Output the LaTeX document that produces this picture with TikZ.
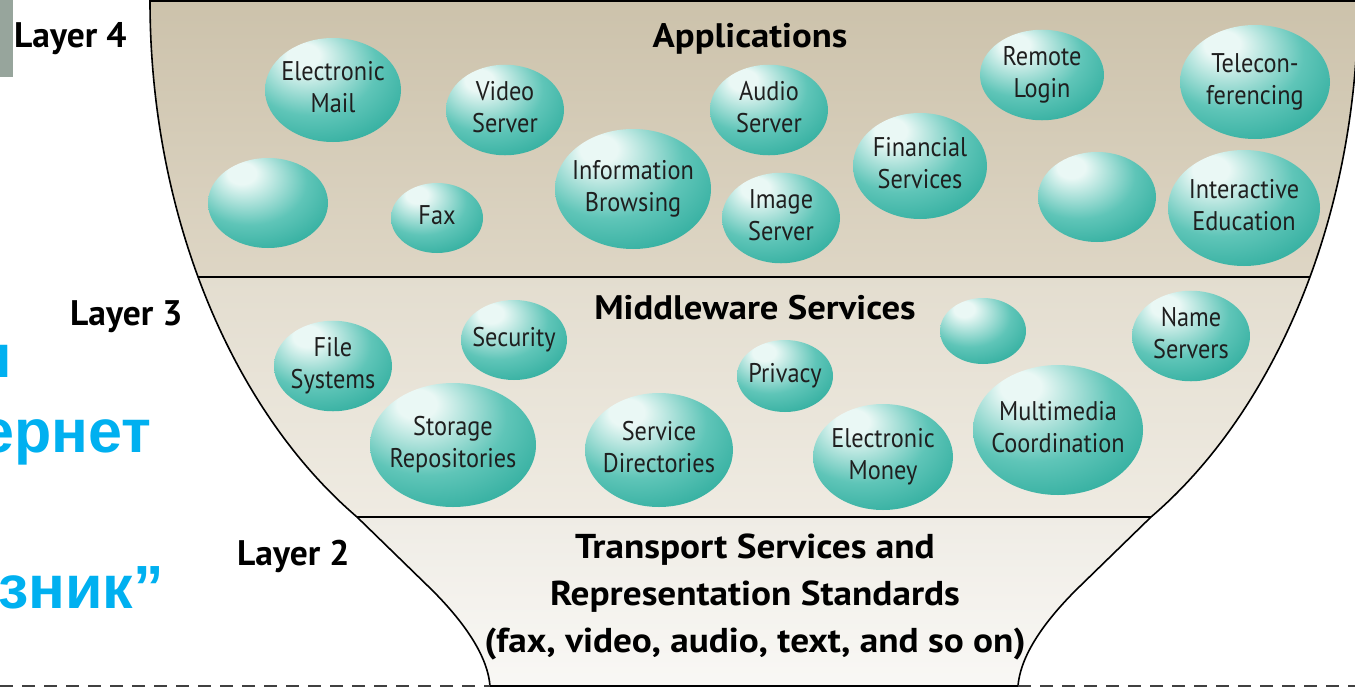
\documentclass[tikz,border=0pt]{standalone}
\usepackage{fontspec}
\setsansfont{PT Sans}
\newfontfamily\bubfont{PT Sans}[FakeStretch=0.9]
\newfontfamily\titlefont{PT Sans}[FakeStretch=1.08]
\newfontfamily\cyrfont{Liberation Sans}
\usetikzlibrary{shapes.geometric}
\definecolor{bubhi}{HTML}{EAF8F5}
\definecolor{bubmid}{HTML}{5FC5B8}
\definecolor{bubdark}{HTML}{1CA393}
\definecolor{bubedge}{HTML}{0C9181}
\definecolor{l4top}{HTML}{CCC2AB}
\definecolor{l4bot}{HTML}{DED6C5}
\definecolor{l3top}{HTML}{E3DDCF}
\definecolor{l3bot}{HTML}{EFEBE2}
\definecolor{l2top}{HTML}{EFECE5}
\definecolor{l2bot}{HTML}{F9F8F5}
\definecolor{sidegray}{HTML}{97A59C}
\definecolor{cyrblue}{HTML}{00B0F0}
\pgfdeclareradialshading{tealball}{\pgfpoint{-12bp}{18bp}}{color(0bp)=(bubhi); color(6bp)=(bubhi); color(24bp)=(bubmid); color(44bp)=(bubdark); color(70bp)=(bubedge)}
\newcommand{\bub}[1]{\makebox[0pt]{\begin{tabular}{@{}c@{}}#1\end{tabular}}}
\tikzset{bubble/.style={ellipse,shading=tealball,inner sep=0pt,text=black!88,
		font=\bubfont\fontsize{27}{32}\selectfont},
	 bsize/.style 2 args={minimum width=#1,minimum height=#2},
	 title/.style={font=\titlefont\bfseries\fontsize{34}{48}\selectfont,anchor=base},
	 lname/.style={font=\sffamily\bfseries\fontsize{35.5}{40}\selectfont,anchor=base west,inner sep=0pt},
	 cyr/.style={font=\cyrfont\bfseries\fontsize{61}{75}\selectfont,text=cyrblue,inner sep=0pt,anchor=base east},
	 dashline/.style={line width=1.5pt,black!75,dash pattern=on 13pt off 9pt}
	 }
\begin{document}
\begin{tikzpicture}[x=1pt,y=-1pt] % hourglass of service layers
	\useasboundingbox (0,0) rectangle (1355,688);
	\fill[sidegray] (0,0) rectangle (13,77);
	\path[save path=\funnelpath] (150,1) .. controls (150,215) and (232,410) .. (357,517) -- (432,590)
		.. controls (470,628) and (488,660) .. (490,686) -- (1018,686)
		.. controls (1020,660) and (1038,628) .. (1076,590) -- (1151,517)
		.. controls (1276,410) and (1358,215) .. (1358,1) -- cycle;
	\begin{scope}
		\clip[use path=\funnelpath];
		\shade[top color=l4top,bottom color=l4bot] (0,0) rectangle (1360,277);
		\shade[top color=l3top,bottom color=l3bot] (0,277) rectangle (1360,517);
		\shade[top color=l2top,bottom color=l2bot] (0,517) rectangle (1360,688);
		\draw[line width=2pt] (0,277) -- (1360,277);
		\draw[line width=2pt] (0,517) -- (1360,517);
	\end{scope}
	\draw[line width=1.6pt,use path=\funnelpath];
	\draw[dashline] (0,686) -- (490,686);
	\draw[dashline] (1018,686) -- (1355,686);
	% layer 4
	\node[title] (t4) at (750,47) {Applications};
	\node[bubble,bsize={136}{104}] (a1) at (333,90) {\bub{Electronic\\Mail}};
	\node[bubble,bsize={118}{90}] (a2) at (505,110) {\bub{Video\\Server}};
	\node[bubble,bsize={120}{90}] (a3) at (268,203) {};
	\node[bubble,bsize={92}{70}] (a4) at (437,218) {\bub{Fax}};
	\node[bubble,bsize={156}{120}] (a5) at (633,189) {\bub{Information\\Browsing}};
	\node[bubble,bsize={118}{90}] (a6) at (769,110) {\bub{Audio\\Server}};
	\node[bubble,bsize={118}{90}] (a7) at (781,218) {\bub{Image\\Server}};
	\node[bubble,bsize={134}{106}] (a8) at (920,166) {\bub{Financial\\Services}};
	\node[bubble,bsize={124}{80}] (a9) at (1042,75) {\bub{Remote\\Login}};
	\node[bubble,bsize={118}{90}] (a10) at (1097,197) {};
	\node[bubble,bsize={150}{114}] (a11) at (1255,82) {\bub{Telecon-\\ferencing}};
	\node[bubble,bsize={152}{116}] (a12) at (1244,208) {\bub{Interactive\\Education}};
	% layer 3
	\node[title] (t3) at (755,319) {Middleware Services};
	\node[bubble,bsize={118}{90}] (m1) at (333,366) {\bub{File\\Systems}};
	\node[bubble,bsize={106}{80}] (m2) at (514,340) {\bub{Security}};
	\node[bubble,bsize={166}{124}] (m3) at (453,445) {\bub{Storage\\Repositories}};
	\node[bubble,bsize={148}{114}] (m4) at (659,450) {\bub{Service\\Directories}};
	\node[bubble,bsize={96}{72}] (m5) at (785,376) {\bub{Privacy}};
	\node[bubble,bsize={140}{106}] (m6) at (883,457) {\bub{Electronic\\Money}};
	\node[bubble,bsize={86}{66}] (m7) at (983,331) {};
	\node[bubble,bsize={118}{88}] (m8) at (1191,336) {\bub{Name\\Servers}};
	\node[bubble,bsize={170}{130}] (m9) at (1058,430) {\bub{Multimedia\\Coordination}};
	% layer 2
	\node[font=\titlefont\bfseries\fontsize{34.5}{47}\selectfont,align=center] (t2) at (755,597)
		{Transport Services and\\Representation Standards\\(fax, video, audio, text, and so on)};
	\node[lname] (l4) at (14,47) {Layer 4};
	\node[lname] (l3) at (70,325) {Layer 3};
	\node[lname] (l2) at (237,565) {Layer 2};
	\node[cyr] (c1) at (12,377) {и};
	\node[cyr] (c2) at (152,452) {ернет};
	\node[cyr] (c3) at (164,608) {зник”};
\end{tikzpicture}
\end{document}
